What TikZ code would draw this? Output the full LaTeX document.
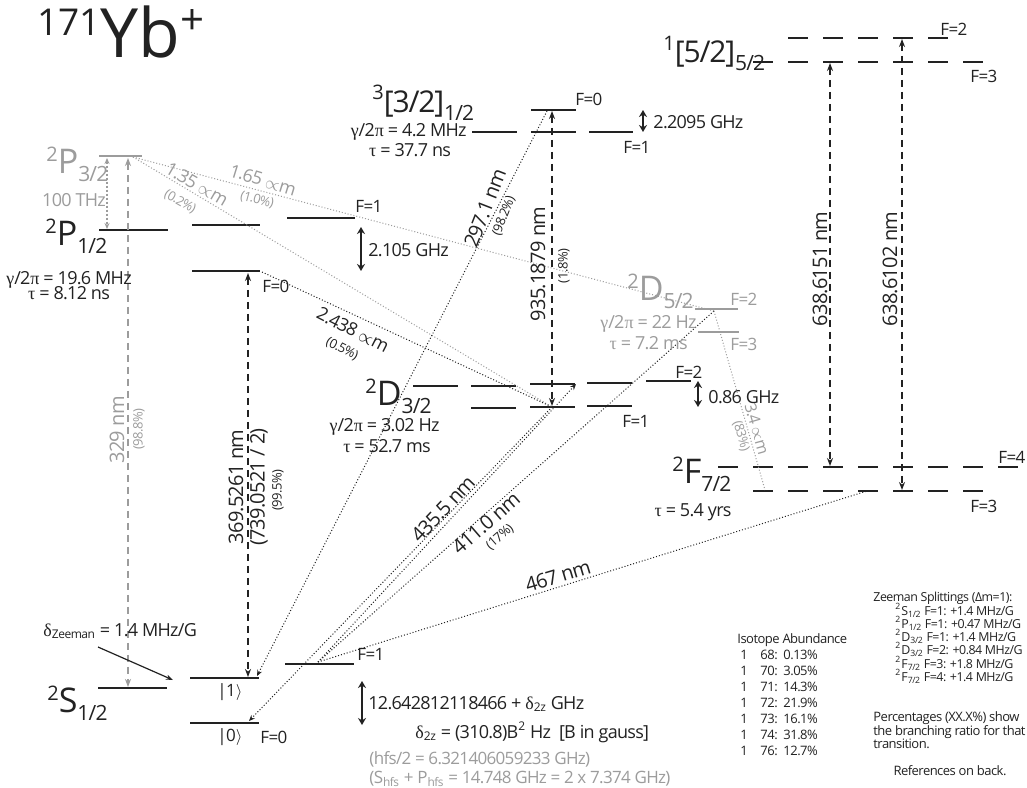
\documentclass[tikz,border=0pt]{standalone}
\usepackage{fontspec}
\setmainfont{Open Sans}[LetterSpace=-4]
\newfontfamily\titlefont{Open Sans}
\newfontfamily\grk{Liberation Serif}
\usetikzlibrary{arrows.meta}
\definecolor{lg}{HTML}{9C9C9C}
\definecolor{ink}{HTML}{222222}
\newcommand\gk[1]{{\grk #1}}
\newcommand\lvl[3]{{\fontsize{10}{10}\selectfont\raisebox{6pt}{#1}}#2{\fontsize{10.5}{10}\selectfont\raisebox{-4pt}{#3}}}
\newcommand\zl[4]{\textsuperscript{#1}#2\textsubscript{#3} #4}
\newcommand\umu{\ensuremath{\propto}m}
\begin{document}
\begin{tikzpicture}[x=0.5pt,y=-0.5pt,
  lev/.style={line width=1.2pt, draw=ink},
  glev/.style={line width=0.8pt, draw=lg},
  dlev/.style={lev, dash pattern=on 10pt off 7.5pt},
  tr/.style={dash pattern=on 3.5pt off 2.5pt, line width=0.7pt, draw=ink, {Stealth[length=4pt,width=3pt]}-{Stealth[length=4pt,width=3pt]}},
  gtr/.style={tr, draw=lg},
  gdt/.style={dash pattern=on 1pt off 1pt, line width=0.6pt, draw=lg, {Stealth[length=3pt,width=2.5pt]}-{Stealth[length=3pt,width=2.5pt]}},
  dec/.style={line width=0.5pt, dash pattern=on 0.5pt off 1pt, draw=ink},
  gdec/.style={dec, draw=lg},
  dtip/.style={-{Stealth[length=3pt,width=2.5pt]}},
  hf/.style={line width=1pt, draw=ink, {Stealth[length=3.5pt,width=4pt]}-{Stealth[length=3.5pt,width=4pt]}},
  t/.style={inner sep=0pt, text=ink, font=\fontsize{9}{10}\selectfont},
  tf/.style={t, font=\fontsize{8.5}{10}\selectfont},
  tw/.style={t, font=\fontsize{10}{11}\selectfont},
  ts/.style={t, font=\fontsize{6.5}{7}\selectfont},
  tz/.style={t, font=\fontsize{6.2}{7}\selectfont},
  tl/.style={t, font=\fontsize{17}{18}\selectfont},
  tb/.style={t, font=\fontsize{15}{16}\selectfont},
  gr/.style={text=lg}]
\fill[white] (0,0) rectangle (1027,787);
\useasboundingbox (0,0) rectangle (1027,787);

% ---------- coordinates of levels ----------
\coordinate (p32a) at (99,156); \coordinate (p32b) at (142,156);
\coordinate (p12a) at (99,230); \coordinate (p12b) at (168,230);
\coordinate (p1f1a) at (192,225); \coordinate (p1f1b) at (260,225);
\coordinate (p1f0a) at (192,271); \coordinate (p1f0b) at (260,271);
\coordinate (p1r1a) at (287,218); \coordinate (p1r1b) at (355,218);
\coordinate (s12a) at (98,688); \coordinate (s12b) at (167,688);
\coordinate (s1a) at (190,678); \coordinate (s1b) at (259,678);
\coordinate (s0a) at (190,723); \coordinate (s0b) at (259,723);
\coordinate (sf1a) at (285,664); \coordinate (sf1b) at (354,664);
\coordinate (t1a) at (472,132); \coordinate (t1b) at (517,132);
\coordinate (t2a) at (531,132); \coordinate (t2b) at (576,132);
\coordinate (t0a) at (531,110); \coordinate (t0b) at (576,110);
\coordinate (t3a) at (589,132); \coordinate (t3b) at (633,132);
\coordinate (d1a) at (413,386); \coordinate (d1b) at (458,386);
\coordinate (d2a) at (471,386); \coordinate (d2b) at (516,386);
\coordinate (d2c) at (471,408); \coordinate (d2d) at (516,408);
\coordinate (d3a) at (530,384); \coordinate (d3b) at (575,384);
\coordinate (d3c) at (530,407); \coordinate (d3d) at (575,407);
\coordinate (d4a) at (587,383); \coordinate (d4b) at (632,383);
\coordinate (d4c) at (587,406); \coordinate (d4d) at (632,406);
\coordinate (d5a) at (646,381); \coordinate (d5b) at (691,381);
\coordinate (e2a) at (695,309); \coordinate (e2b) at (738,309);
\coordinate (e3a) at (698,332); \coordinate (e3b) at (739,332);
\coordinate (g3a) at (753,62); \coordinate (g3b) at (983,62);
\coordinate (g2a) at (788,38); \coordinate (g2b) at (948,38);
\coordinate (f4a) at (718,467); \coordinate (f4b) at (1018,467);
\coordinate (f3a) at (753,491); \coordinate (f3b) at (983,491);

% ---------- levels ----------
\draw[glev] (p32a) -- (p32b);
\draw[lev] (p12a) -- (p12b);
\draw[lev] (p1f1a) -- (p1f1b);
\draw[lev] (p1f0a) -- (p1f0b);
\draw[lev] (p1r1a) -- (p1r1b);
\draw[lev] (s12a) -- (s12b);
\draw[lev] (s1a) -- (s1b);
\draw[lev] (s0a) -- (s0b);
\draw[lev] (sf1a) -- (sf1b);
\draw[lev] (t1a) -- (t1b);
\draw[lev] (t2a) -- (t2b);
\draw[lev] (t0a) -- (t0b);
\draw[lev] (t3a) -- (t3b);
\draw[lev] (d1a) -- (d1b);
\draw[lev] (d2a) -- (d2b);
\draw[lev] (d2c) -- (d2d);
\draw[lev] (d3a) -- (d3b);
\draw[lev] (d3c) -- (d3d);
\draw[lev] (d4a) -- (d4b);
\draw[lev] (d4c) -- (d4d);
\draw[lev] (d5a) -- (d5b);
\draw[glev] (e2a) -- (e2b);
\draw[glev] (e3a) -- (e3b);
\draw[dlev] (g3a) -- (g3b);
\draw[dlev] (g2a) -- (g2b);
\draw[dlev] (f4a) -- (f4b);
\draw[dlev] (f3a) -- (f3b);

% ---------- transition end points ----------
\coordinate (a329t) at (128,158); \coordinate (a329b) at (128,687);
\coordinate (a369t) at (248,273); \coordinate (a369b) at (248,677);
\coordinate (a935t) at (552,111); \coordinate (a935b) at (552,406);
\coordinate (a51t) at (830,63); \coordinate (a51b) at (830,466);
\coordinate (a02t) at (902,39); \coordinate (a02b) at (902,490);
\coordinate (thzt) at (107,158); \coordinate (thzb) at (107,229);
\coordinate (h1t) at (361,227); \coordinate (h1b) at (361,271);
\coordinate (h2t) at (643,110); \coordinate (h2b) at (643,132);
\coordinate (h3t) at (698,381); \coordinate (h3b) at (698,407);
\coordinate (h4t) at (362,681); \coordinate (h4b) at (362,725);
\coordinate (ps) at (133,157);
\coordinate (dpt) at (552,407);
\coordinate (d2pt) at (576,384);
\coordinate (fpt) at (714,311);
\coordinate (pf0) at (262,272);
\coordinate (tpt) at (547,111);
\coordinate (s1pt) at (257,676);
\coordinate (s0pt) at (249,721);
\coordinate (sfpt) at (318,662);
\coordinate (f7pt) at (867,491);
\coordinate (f7pt2) at (765,490);
\coordinate (zs) at (98,647); \coordinate (ze) at (173,680);

% ---------- transitions ----------
\draw[gtr] (a329t) -- (a329b);
\draw[tr] (a369t) -- (a369b);
\draw[tr] (a935t) -- (a935b);
\draw[tr] (a51t) -- (a51b);
\draw[tr] (a02t) -- (a02b);
\draw[gdt] (thzt) -- (thzb);
\draw[hf] (h1t) -- (h1b);
\draw[hf] (h2t) -- (h2b);
\draw[hf] (h3t) -- (h3b);
\draw[hf] (h4t) -- (h4b);
\draw[gdec] (ps) -- (dpt);
\draw[gdec] (ps) -- (fpt);
\draw[dec] (pf0) -- (dpt);
\draw[dec,dtip] (tpt) -- (s1pt);
\draw[dec,dtip] (sfpt) -- (d2pt);
\draw[dec,dtip] (dpt) -- (s0pt);
\draw[dec] (sfpt) -- (fpt);
\draw[dec] (sfpt) -- (f7pt);
\draw[gdec] (fpt) -- (f7pt2);
\draw[line width=0.6pt, draw=ink, -{Stealth[length=3.5pt,width=2.5pt]}] (zs) -- (ze);

% ---------- title ----------
\node[t, anchor=base west] (title) at (37,57) {\titlefont\raisebox{11pt}{\fontsize{18.5}{18}\selectfont 171}\fontsize{34}{34}\selectfont Yb\raisebox{11.5pt}{\fontsize{21}{21}\selectfont +}};

% ---------- P levels ----------
\node[tl, gr, anchor=base west] (lp32) at (46,173) {\lvl{2}{P}{3/2}};
\node[t, gr, anchor=base] (thz) at (74,206) {100 THz};
\node[tl, anchor=base west] (lp12) at (45,245) {\lvl{2}{P}{1/2}};
\node[t, anchor=base] (gp) at (69,284) {\gk{γ}/2\gk{π} = 19.6 MHz};
\node[t, anchor=base] (taup) at (69,299) {\gk{τ} = 8.12 ns};
\node[tf, anchor=base west] (pF1) at (355,212) {F=1};
\node[t, anchor=base west] (pghz) at (368,256) {2.105 GHz};
\node[tf, anchor=base west] (pF0) at (262,292) {F=0};
\node[t, gr, rotate=-30] (l135) at (197,184) {1.35 \umu};
\node[ts, gr, rotate=-30] (b135) at (180,202) {(0.2\%)};
\node[t, gr, rotate=-17] (l165) at (263,180) {1.65 \umu};
\node[ts, gr, rotate=-15] (b165) at (257,200) {(1.0\%)};
\node[t, rotate=-27] (l2438) at (353,330) {2.438 \umu};
\node[ts, rotate=-27] (b2438) at (342,349) {(0.5\%)};

% ---------- 3[3/2] ----------
\node[tb, anchor=base west] (l332) at (372,112) {\lvl{3}{[3/2]}{1/2}};
\node[t, anchor=base east] (g332) at (467,136) {\gk{γ}/2\gk{π} = 4.2 MHz};
\node[t, anchor=base] (tau332) at (410,156) {\gk{τ} = 37.7 ns};
\node[tf, anchor=base west] (tF0) at (575,105) {F=0};
\node[tf, anchor=base west] (tF1) at (623,153) {F=1};
\node[t, anchor=base west] (tghz) at (653,128) {2.2095 GHz};
\node[tw, rotate=68.7] (l297) at (485,208) {297.1 nm};
\node[ts, rotate=68.7] (b297) at (504,216) {(98.2\%)};
\node[tw, rotate=90] (l935) at (538,264) {935.1879 nm};
\node[ts, rotate=90] (b935) at (564,266) {(1.8\%)};

% ---------- 1[5/2] ----------
\node[tb, anchor=base west] (l152) at (663,62) {\lvl{1}{[5/2]}{5/2}};
\node[tf, anchor=base west] (gF2) at (940,35) {F=2};
\node[tf, anchor=base west] (gF3) at (970,82) {F=3};
\node[tw, rotate=90] (l6151) at (820,269) {638.6151 nm};
\node[tw, rotate=90] (l6102) at (890,269) {638.6102 nm};

% ---------- D5/2 ----------
\node[tl, gr, anchor=base west] (ld52) at (627,300) {\lvl{2}{D}{5/2}};
\node[t, gr, anchor=base east] (gd52) at (697,328) {\gk{γ}/2\gk{π} = 22 Hz};
\node[t, gr, anchor=base east] (taud52) at (688,349) {\gk{τ} = 7.2 ms};
\node[tf, gr, anchor=base west] (eF2) at (730,305) {F=2};
\node[tf, gr, anchor=base west] (eF3) at (730,350) {F=3};
\node[t, gr, rotate=-74, font=\fontsize{8}{9}\selectfont] (l34) at (757,429) {3.4 \umu};
\node[ts, gr, rotate=-74] (b34) at (741,436) {(83\%)};

% ---------- D3/2 ----------
\node[tl, anchor=base west] (ld32) at (365,405) {\lvl{2}{D}{3/2}};
\node[t, anchor=base east] (gd32) at (440,431) {\gk{γ}/2\gk{π} = 3.02 Hz};
\node[t, anchor=base] (taud32) at (387,452) {\gk{τ} = 52.7 ms};
\node[tf, anchor=base west] (dF2) at (675,378) {F=2};
\node[tf, anchor=base west] (dF1) at (622,427) {F=1};
\node[t, anchor=base west] (dghz) at (708,403) {0.86 GHz};

% ---------- F7/2 ----------
\node[tl, anchor=base west] (lf72) at (672,483) {\lvl{2}{F}{7/2}};
\node[t, anchor=base] (tauf) at (693,516) {\gk{τ} = 5.4 yrs};
\node[tf, anchor=base west] (fF4) at (998,463) {F=4};
\node[tf, anchor=base west] (fF3) at (970,512) {F=3};

% ---------- long transitions labels ----------
\node[tw, gr, rotate=90] (l329) at (117,430) {329 nm};
\node[ts, gr, rotate=90] (b329) at (139,429) {(98.8\%)};
\node[tw, rotate=90] (l369) at (236,487) {369.5261 nm};
\node[tw, rotate=90] (l739) at (259,487) {(739.0521 / 2)};
\node[ts, rotate=90] (b369) at (278,490) {(99.5\%)};
\node[tw, rotate=46.6] (l435) at (443,509) {435.5 nm};
\node[tw, rotate=41] (l411) at (486,523) {411.0 nm};
\node[ts, rotate=41] (b411) at (500,537) {(17\%)};
\node[tw, rotate=16.7] (l467) at (558,576) {467 nm};

% ---------- S1/2 ----------
\node[t, anchor=base west] (dz) at (43,636) {\gk{δ}\textsubscript{Zeeman} = 1.4 MHz/G};
\node[tl, anchor=base west] (ls12) at (47,712) {\lvl{2}{S}{1/2}};
\node[tf, anchor=base west] (k1) at (217,696) {|1\ensuremath{\rangle}};
\node[tf, anchor=base west] (k0) at (217,741) {|0\ensuremath{\rangle}};
\node[tf, anchor=base west] (sF0) at (260,743) {F=0};
\node[tf, anchor=base west] (sF1) at (357,660) {F=1};
\node[t, anchor=base west] (hfs) at (368,709) {12.642812118466 + \gk{δ}\textsubscript{2z} GHz};
\node[t, anchor=base west] (d2z) at (415,738) {\gk{δ}\textsubscript{2z} = (310.8)B\textsuperscript{2} Hz \ [B in gauss]};
\node[tf, gr, anchor=base west] (hfs2) at (369,764) {(hfs/2 = 6.321406059233 GHz)};
\node[tf, gr, anchor=base west] (shfs) at (369,783) {(S\textsubscript{hfs} + P\textsubscript{hfs} = 14.748 GHz = 2 x 7.374 GHz)};

% ---------- tables ----------
\node[ts, anchor=base west] (iso) at (737,643) {Isotope Abundance};
\foreach \m/\v [count=\k from 0] in {68/0.13\%,70/3.05\%,71/14.3\%,72/21.9\%,73/16.1\%,74/31.8\%,76/12.7\%}{
  \node[ts, anchor=base west] (isoa\k) at (740,659+16*\k) {1};
  \node[ts, anchor=base west] (isob\k) at (760,659+16*\k) {\m:};
  \node[ts, anchor=base west] (isoc\k) at (783,659+16*\k) {\v};
}
\node[tz, anchor=base west] (zst) at (873,601) {Zeeman Splittings (Δm=1):};
\node[tz, anchor=base west] (z1) at (895,615) {\zl{2}{S}{1/2}{F=1: +1.4 MHz/G}};
\node[tz, anchor=base west] (z2) at (895,628) {\zl{2}{P}{1/2}{F=1: +0.47 MHz/G}};
\node[tz, anchor=base west] (z3) at (895,641) {\zl{2}{D}{3/2}{F=1: +1.4 MHz/G}};
\node[tz, anchor=base west] (z4) at (895,654) {\zl{2}{D}{3/2}{F=2: +0.84 MHz/G}};
\node[tz, anchor=base west] (z5) at (895,668) {\zl{2}{F}{7/2}{F=3: +1.8 MHz/G}};
\node[tz, anchor=base west] (z6) at (895,681) {\zl{2}{F}{7/2}{F=4: +1.4 MHz/G}};
\node[ts, anchor=base west] (pc1) at (873,721) {Percentages (XX.X\%) show};
\node[ts, anchor=base west] (pc2) at (873,735) {the branching ratio for that};
\node[ts, anchor=base west] (pc3) at (873,748) {transition.};
\node[ts, anchor=base] (ref) at (950,775) {References on back.};
\end{tikzpicture}
\end{document}
